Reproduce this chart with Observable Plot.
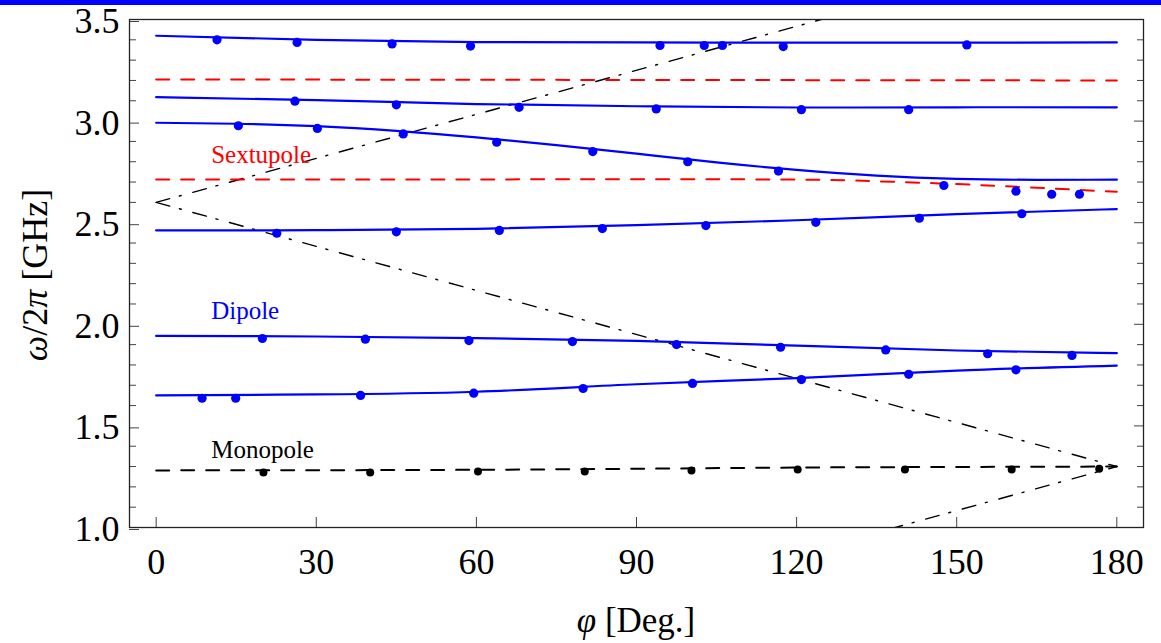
<!DOCTYPE html>
<html>
<head>
<meta charset="utf-8">
<script src="https://cdn.jsdelivr.net/npm/d3@7"></script>
<script src="https://cdn.jsdelivr.net/npm/@observablehq/plot@0.6"></script>
<style>
  html, body { margin: 0; padding: 0; background: #fff; }
  #bar { width: 1161px; height: 5px; background: #0000ff; }
  #chart svg { display: block; }
</style>
</head>
<body>
<div id="bar"></div>
<div id="chart"></div>
<script>
// ---------- DATA ----------
// Simulated dispersion curves (solid blue)
const curvePhi = [0, 30, 60, 90, 120, 150, 180];
const band1F = [3.420, 3.400, 3.389, 3.387, 3.386, 3.386, 3.387];
const band2F = [3.118, 3.103, 3.084, 3.073, 3.067, 3.068, 3.068];
const band4F = [2.462, 2.463, 2.470, 2.488, 2.512, 2.542, 2.567];
const band5F = [1.943, 1.940, 1.932, 1.918, 1.895, 1.871, 1.858];
const band6F = [1.650, 1.655, 1.668, 1.705, 1.735, 1.772, 1.797];
const band3Phi = [0, 15, 30, 45, 60, 75, 90, 105, 120, 135, 150, 165, 180];
const band3F = [2.992, 2.987, 2.975, 2.952, 2.920, 2.882, 2.840, 2.797, 2.760, 2.732, 2.716, 2.711, 2.712];

// Monopole (black dashed)
const monoF = [1.281, 1.282, 1.284, 1.289, 1.295, 1.298, 1.300];

// Sextupole (red dashed)
const sext1Phi = [0, 180];
const sext1F = [3.205, 3.200];
const sext2Phi = [0, 30, 60, 90, 120, 135, 150, 165, 180];
const sext2F = [2.713, 2.713, 2.713, 2.714, 2.712, 2.704, 2.690, 2.672, 2.652];

// Light lines (dash-dot)
const lightPhi = [0, 180];
const lightUpF = [2.6, 3.9];
const lightDownF = [2.6, 1.3];
const lightLowF = [0.0, 1.3];

// Measured points (blue)
const p1Phi = [11.4, 26.4, 44.2, 58.9, 94.4, 102.7, 106.1, 117.5, 151.9];
const p1F   = [3.400, 3.387, 3.380, 3.369, 3.372, 3.372, 3.372, 3.367, 3.375];
const p2Phi = [26.0, 45.0, 68.0, 93.7, 120.9, 141.0];
const p2F   = [3.098, 3.080, 3.068, 3.060, 3.056, 3.056];
const p3Phi = [15.4, 30.2, 46.3, 63.8, 81.8, 99.6, 116.6, 147.6, 161.1, 167.8, 173.0];
const p3F   = [2.977, 2.964, 2.937, 2.896, 2.850, 2.800, 2.754, 2.683, 2.655, 2.640, 2.640];
const p4Phi = [22.6, 45.0, 64.3, 83.6, 103.0, 123.6, 143.0, 162.2];
const p4F   = [2.448, 2.455, 2.462, 2.471, 2.486, 2.502, 2.522, 2.544];
const p5Phi = [19.9, 39.2, 58.6, 78.0, 97.5, 117.0, 136.7, 155.8, 171.6];
const p5F   = [1.930, 1.927, 1.920, 1.915, 1.900, 1.887, 1.874, 1.855, 1.847];
const p6Phi = [8.6, 14.9, 38.3, 59.5, 80.0, 100.5, 120.9, 141.0, 161.1];
const p6F   = [1.636, 1.636, 1.650, 1.661, 1.684, 1.709, 1.728, 1.754, 1.776];
// Measured monopole points (black)
const pmPhi = [20.1, 40.1, 60.3, 80.3, 100.3, 120.2, 140.3, 160.3, 176.7];
const pmF   = [1.271, 1.271, 1.276, 1.276, 1.281, 1.285, 1.285, 1.285, 1.289];

// Labels
const labelText = ["Sextupole", "Dipole", "Monopole"];
const labelPhi = [10.3, 10.3, 10.3];
const labelF = [2.793, 2.024, 1.342];
const labelColor = ["#ff0000", "#0000ff", "#000000"];

// Ticks
const xTicks = [0, 30, 60, 90, 120, 150, 180];
const yTicks = [1.0, 1.5, 2.0, 2.5, 3.0, 3.5];
const yMinor = [1.1, 1.2, 1.3, 1.4, 1.6, 1.7, 1.8, 1.9, 2.1, 2.2, 2.3, 2.4, 2.6, 2.7, 2.8, 2.9, 3.1, 3.2, 3.3, 3.4];

// ---------- HELPERS ----------
const zip = (xs, ys) => xs.map((x, i) => ({phi: x, f: ys[i]}));
const BLUE = "#0000ff", RED = "#ff0000";
const FONT = "'Liberation Serif', 'Times New Roman', serif";

const blueCurves = [
  zip(curvePhi, band1F), zip(curvePhi, band2F), zip(band3Phi, band3F),
  zip(curvePhi, band4F), zip(curvePhi, band5F), zip(curvePhi, band6F)
];
const bluePoints = [
  ...zip(p1Phi, p1F), ...zip(p2Phi, p2F), ...zip(p3Phi, p3F),
  ...zip(p4Phi, p4F), ...zip(p5Phi, p5F), ...zip(p6Phi, p6F)
];
const labels = labelText.map((t, i) => ({text: t, phi: labelPhi[i], f: labelF[i], color: labelColor[i]}));

const lightDash = "14,10,2,12";
const dash = "13,12";

const plot = Plot.plot({
  width: 1161,
  height: 638,
  marginLeft: 129,
  marginRight: 18,
  marginTop: 14,
  marginBottom: 116,
  style: {fontFamily: FONT, background: "transparent", color: "#000", overflow: "visible"},
  x: {domain: [-5, 185], label: null},
  y: {domain: [1.0, 3.5], label: null},
  color: {type: "identity"},
  marks: [
    // light lines
    Plot.line(zip(lightPhi, lightUpF), {x: "phi", y: "f", stroke: "#000", strokeWidth: 1.4, strokeDasharray: lightDash, clip: true}),
    Plot.line(zip(lightPhi, lightDownF), {x: "phi", y: "f", stroke: "#000", strokeWidth: 1.4, strokeDasharray: lightDash, clip: true}),
    Plot.line(zip(lightPhi, lightLowF), {x: "phi", y: "f", stroke: "#000", strokeWidth: 1.4, strokeDasharray: lightDash, clip: true}),
    // sextupole
    Plot.line(zip(sext1Phi, sext1F), {x: "phi", y: "f", stroke: RED, strokeWidth: 2, strokeDasharray: dash}),
    Plot.line(zip(sext2Phi, sext2F), {x: "phi", y: "f", stroke: RED, strokeWidth: 2, strokeDasharray: dash, curve: "natural"}),
    // monopole
    Plot.line(zip(curvePhi, monoF), {x: "phi", y: "f", stroke: "#000", strokeWidth: 2, strokeDasharray: dash, curve: "natural"}),
    // simulated blue curves
    ...blueCurves.map(c => Plot.line(c, {x: "phi", y: "f", stroke: BLUE, strokeWidth: 2.2, curve: "natural"})),
    // points
    Plot.dot(bluePoints, {x: "phi", y: "f", r: 4.6, fill: BLUE, stroke: "none"}),
    Plot.dot(zip(pmPhi, pmF), {x: "phi", y: "f", r: 4, fill: "#000", stroke: "none"}),
    // labels
    Plot.text(labels, {x: "phi", y: "f", text: "text", fill: "color", textAnchor: "start", lineAnchor: "bottom", fontSize: 25, fontFamily: FONT}),
    // axes
    Plot.axisY(yTicks, {anchor: "left", tickSize: -10, tickPadding: 20, tickFormat: d3.format(".1f"), fontSize: 36, dy: 2, stroke: "#444", label: null}),
    Plot.axisY(yMinor, {anchor: "left", tickSize: -7, tickFormat: () => "", stroke: "#444", label: null}),
    Plot.axisY(yTicks, {anchor: "right", tickSize: -10, tickFormat: () => "", stroke: "#444", label: null}),
    Plot.axisY(yMinor, {anchor: "right", tickSize: -7, tickFormat: () => "", stroke: "#444", label: null}),
    Plot.axisX(xTicks, {anchor: "bottom", tickSize: -10, tickPadding: 31, fontSize: 36, stroke: "#444", label: null}),
    Plot.frame({stroke: "#222", strokeWidth: 1.3})
  ]
});

document.getElementById("chart").appendChild(plot);

// Axis titles with italic Greek letters
const svg = d3.select(plot);
const yl = svg.append("text")
  .attr("transform", "translate(47,270) rotate(-90)")
  .attr("text-anchor", "middle")
  .attr("font-family", FONT)
  .attr("font-size", 36)
  .attr("fill", "#000");
yl.append("tspan").attr("font-style", "italic").text("ω");
yl.append("tspan").text("/2");
yl.append("tspan").attr("font-style", "italic").text("π");
yl.append("tspan").text(" [GHz]");

const xl = svg.append("text")
  .attr("transform", "translate(636,627)")
  .attr("text-anchor", "middle")
  .attr("font-family", FONT)
  .attr("font-size", 35)
  .attr("fill", "#000");
xl.append("tspan").attr("font-style", "italic").text("φ");
xl.append("tspan").text(" [Deg.]");
</script>
</body>
</html>
